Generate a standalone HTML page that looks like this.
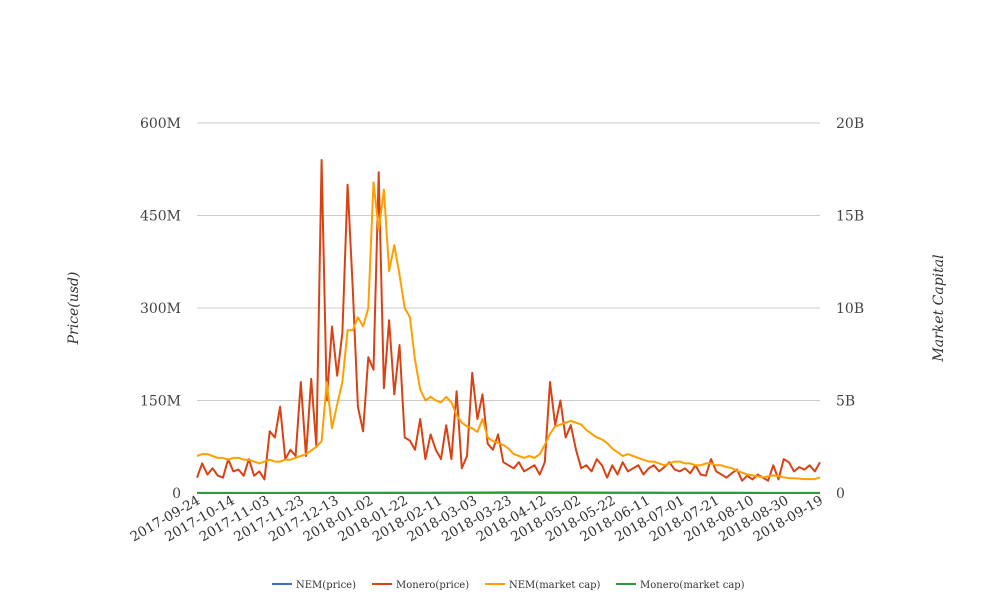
<!DOCTYPE html>
<html><head><meta charset="utf-8"><style>
body{margin:0;background:#fff;}
svg{display:block;font-family:"DejaVu Serif","Liberation Serif",serif;}
</style></head><body>
<svg id="chart" width="1008" height="616" viewBox="0 0 1008 616">
<g id="grid"></g>
<g id="series"></g>
<g id="axes"></g>
<text transform="translate(78,308) rotate(-90)" text-anchor="middle" font-style="italic" font-size="14" fill="#333">Price(usd)</text>
<text transform="translate(943,308) rotate(-90)" text-anchor="middle" font-style="italic" font-size="14" fill="#333">Market Capital</text>
<g id="legend"></g>
</svg>
<script>
const tickLabels=["2017-09-24","2017-10-14","2017-11-03","2017-11-23","2017-12-13","2018-01-02","2018-01-22","2018-02-11","2018-03-03","2018-03-23","2018-04-12","2018-05-02","2018-05-22","2018-06-11","2018-07-01","2018-07-21","2018-08-10","2018-08-30","2018-09-19"];
const leftTicks=[0,150,300,450,600];
const leftTickLabels=["0","150M","300M","450M","600M"];
const rightTicks=[0,5,10,15,20];
const rightTickLabels=["0","5B","10B","15B","20B"];
const seriesNames=["NEM(price)","Monero(price)","NEM(market cap)","Monero(market cap)"];
const seriesColors=["#3a6fc4","#d84315","#ffa000","#2e9b3a"];
const moneroPrice=[25,48,30,40,28,25,55,35,38,28,55,28,35,22,100,90,140,55,70,60,180,60,185,75,540,150,270,190,260,500,330,140,100,220,200,520,170,280,160,240,90,85,70,120,55,95,70,55,110,55,165,40,60,195,120,160,80,70,95,50,45,40,50,35,40,45,30,50,180,110,150,90,110,70,40,45,35,55,45,25,45,30,50,35,40,45,30,40,45,35,42,50,38,35,40,32,45,30,28,55,35,30,25,32,38,20,28,22,30,25,20,45,22,55,50,35,42,38,45,35,50];
const nemCap=[2.0,2.1,2.1,2.0,1.9,1.9,1.8,1.9,1.9,1.8,1.8,1.7,1.6,1.7,1.8,1.7,1.7,1.8,1.8,1.9,2.0,2.1,2.3,2.5,2.8,6.0,3.5,4.8,6.0,8.8,8.8,9.5,9.0,10.0,16.8,14.2,16.4,12.0,13.4,11.8,10.0,9.5,7.2,5.6,5.0,5.2,5.0,4.9,5.2,4.9,4.2,3.8,3.6,3.5,3.3,4.0,3.0,2.8,2.7,2.6,2.4,2.1,2.0,1.9,2.0,1.9,2.1,2.6,3.2,3.6,3.7,3.8,3.9,3.8,3.7,3.4,3.2,3.0,2.9,2.7,2.4,2.2,2.0,2.1,2.0,1.9,1.8,1.7,1.7,1.6,1.5,1.6,1.7,1.7,1.6,1.6,1.5,1.5,1.6,1.6,1.5,1.5,1.4,1.35,1.2,1.1,1.0,0.95,0.9,0.85,0.9,0.95,0.9,0.85,0.8,0.8,0.78,0.75,0.75,0.75,0.85];
const nemPrice=[0.2,0.2,0.3,0.5,1.0,0.8,0.4,0.3,0.2];
const moneroCap=[0.001,0.001,0.002,0.005,0.006,0.004,0.003,0.002,0.002];
const X0=197,X1=820,Y0=493,Y1=123;
const xScale=f=>X0+f*(X1-X0);
const yLeft=v=>Y0-v/600*(Y0-Y1);
const yRight=v=>Y0-v/20*(Y0-Y1);
const NS="http://www.w3.org/2000/svg";
function mk(tag,attrs,parent){const e=document.createElementNS(NS,tag);for(const k in attrs)e.setAttribute(k,attrs[k]);parent.appendChild(e);return e;}
const grid=document.getElementById('grid'),axes=document.getElementById('axes'),ser=document.getElementById('series'),leg=document.getElementById('legend');
leftTicks.forEach((t,i)=>{
 const y=yLeft(t);
 if(t>0){const l=mk('line',{x1:X0,x2:X1,y1:y,y2:y,stroke:'#ccc','stroke-width':1},grid);
 
 }
 const a=mk('text',{x:181,y:y+5,'text-anchor':'end','font-size':14,fill:'#444'},axes);a.textContent=leftTickLabels[i];
 
 
});
rightTicks.forEach((t,i)=>{
 const y=yRight(t);
 const a=mk('text',{x:836,y:y+5,'text-anchor':'start','font-size':14,fill:'#444'},axes);a.textContent=rightTickLabels[i];
 
 
});
tickLabels.forEach((t,i)=>{
 const x=xScale(i/(tickLabels.length-1));
 const a=mk('text',{transform:`translate(${x+4},${503}) rotate(-30)`,'text-anchor':'end','font-size':13.5,fill:'#333'},axes);a.textContent=t;
 
 
});
function line(arr,yf,color,name){
 const n=arr.length;
 const d=arr.map((v,i)=>(i?'L':'M')+xScale(i/(n-1)).toFixed(1)+','+yf(v).toFixed(1)).join('');
 const p=mk('path',{d:d,fill:'none',stroke:color,'stroke-width':2,'stroke-linejoin':'round'},ser);
 
 
}
line(nemPrice,yLeft,seriesColors[0],'nem-price-line');
line(moneroPrice,yLeft,seriesColors[1],'monero-price-line');
line(nemCap,yRight,seriesColors[2],'nem-market-cap-line');
line(moneroCap,yRight,seriesColors[3],'monero-market-cap-line');
const lx=[272,372,485,616];
seriesNames.forEach((s,i)=>{
 const g=mk('g',{},leg);
 
 
 mk('line',{x1:lx[i],x2:lx[i]+20,y1:584,y2:584,stroke:seriesColors[i],'stroke-width':2},g);
 const t=mk('text',{x:lx[i]+24,y:588,'font-size':10,fill:'#333'},g);t.textContent=s;
});
</script>
</body></html>
